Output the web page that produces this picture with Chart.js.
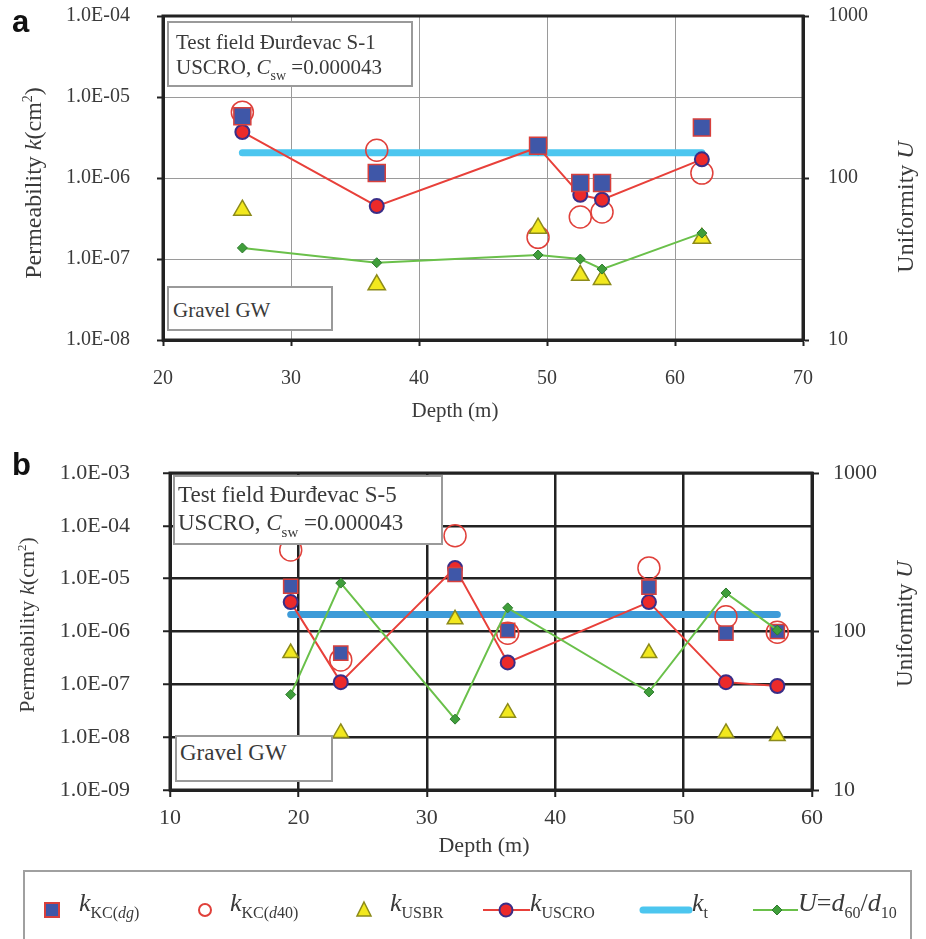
<!DOCTYPE html>
<html>
<head>
<meta charset="utf-8">
<script src="https://cdn.jsdelivr.net/npm/chart.js@4.4.1/dist/chart.umd.min.js"></script>
<style>
  body { margin: 0; background: #fff; }
  #page { position: relative; width: 926px; height: 939px; overflow: hidden; font-family: "Liberation Serif", "Times New Roman", serif; color: #3a3a3a; }
  canvas { position: absolute; left: 0; }
  .abs { position: absolute; white-space: nowrap; }
  .box { position: absolute; background: #fff; border: 2px solid #9a9a9a; box-sizing: border-box; }
  .rot { transform: translate(-50%, -50%) rotate(-90deg); }
  .panel { font-family: "Liberation Sans", Arial, sans-serif; font-weight: bold; font-size: 31px; color: #111; }
  .leg { position: absolute; top: 870px; left: 23px; width: 889px; height: 90px; border: 2px solid #a0a0a0; box-sizing: border-box; }
  .lk { position: absolute; top: 888px; font-size: 26px; white-space: nowrap; }
  .lk sub { font-size: 16px; font-style: normal; vertical-align: -7px; }
  svg { position: absolute; overflow: visible; }
</style>
</head>
<body>
<div id="page">
  <canvas id="ca" width="926" height="430" style="top:0"></canvas>
  <canvas id="cb" width="926" height="420" style="top:440px"></canvas>

  <div class="abs panel" style="left:12px; top:4px;">a</div>
  <div class="abs panel" style="left:12px; top:447px;">b</div>

  <!-- axis titles, chart a -->
  <div class="abs rot" style="left:33px; top:183px; font-size:24px;">Permeability <i>k</i>(cm<sup style="font-size:14px">2</sup>)</div>
  <div class="abs rot" style="left:905px; top:207px; font-size:24px;">Uniformity <i>U</i></div>
  <div class="abs" style="left:455px; top:410px; font-size:21px; transform:translate(-50%,-50%);">Depth (m)</div>

  <!-- axis titles, chart b -->
  <div class="abs rot" style="left:27px; top:625px; font-size:22px;">Permeability <i>k</i>(cm<sup style="font-size:13px">2</sup>)</div>
  <div class="abs rot" style="left:905px; top:624px; font-size:23px;">Uniformity <i>U</i></div>
  <div class="abs" style="left:484px; top:845px; font-size:22px; transform:translate(-50%,-50%);">Depth (m)</div>

  <!-- note boxes, chart a -->
  <div class="box" style="left:167px; top:21px; width:246px; height:66px;"></div>
  <div class="abs" style="left:176px; top:29px; font-size:21px; line-height:26px;">Test field Đurđevac S-1</div>
  <div class="abs" style="left:176px; top:54px; font-size:21px; line-height:26px;">USCRO, <i>C</i><sub style="font-size:14px; vertical-align:-6px">sw</sub> =0.000043</div>
  <div class="box" style="left:167px; top:286px; width:166px; height:45px;"></div>
  <div class="abs" style="left:173px; top:297px; font-size:21px; line-height:26px;">Gravel GW</div>

  <!-- note boxes, chart b -->
  <div class="box" style="left:173px; top:475px; width:270px; height:70px;"></div>
  <div class="abs" style="left:178px; top:481px; font-size:23px; line-height:28px;">Test field Đurđevac S-5</div>
  <div class="abs" style="left:178px; top:509px; font-size:23px; line-height:28px;">USCRO, <i>C</i><sub style="font-size:15px; vertical-align:-7px">sw</sub> =0.000043</div>
  <div class="box" style="left:175px; top:735px; width:158px; height:47px;"></div>
  <div class="abs" style="left:180px; top:739px; font-size:23px; line-height:28px;">Gravel GW</div>

  <!-- shared legend -->
  <div class="leg"></div>
  <svg style="left:0; top:0;" width="926" height="939">
    <rect x="45" y="903" width="14" height="14" fill="#3f57a8" stroke="#d8403c" stroke-width="2"/>
    <circle cx="205" cy="910" r="6" fill="none" stroke="#e0403a" stroke-width="2"/>
    <polygon points="364,902 371,916 357,916" fill="#f2e81e" stroke="#8c8a1a" stroke-width="1.5"/>
    <line x1="483" y1="910" x2="530" y2="910" stroke="#e8403a" stroke-width="2"/>
    <circle cx="506" cy="910" r="6.5" fill="#ec2a2a" stroke="#3a2e88" stroke-width="2"/>
    <line x1="643" y1="910" x2="689" y2="910" stroke="#4cc6ef" stroke-width="7" stroke-linecap="round"/>
    <line x1="753" y1="910" x2="798" y2="910" stroke="#6ac04a" stroke-width="2"/>
    <polygon points="777,905 782,910 777,915 772,910" fill="#3f9e3a" stroke="#2f7a2f" stroke-width="1"/>
  </svg>
  <div class="lk" style="left:79px;"><i>k</i><sub>KC(<i>dg</i>)</sub></div>
  <div class="lk" style="left:230px;"><i>k</i><sub>KC(<i>d</i>40)</sub></div>
  <div class="lk" style="left:390px;"><i>k</i><sub>USBR</sub></div>
  <div class="lk" style="left:530px;"><i>k</i><sub>USCRO</sub></div>
  <div class="lk" style="left:692px;"><i>k</i><sub>t</sub></div>
  <div class="lk" style="left:798px;"><i>U</i>=<i>d</i><sub>60</sub>/<i>d</i><sub>10</sub></div>
</div>

<script>
// ---- chart a : Test field Durdevac S-1 ----
const depthA   = [26.2, 36.7, 49.3, 52.6, 54.3, 62.1];
const kKcDgA   = [5.8e-6, 1.15e-6, 2.5e-6, 8.7e-7, 8.7e-7, 4.2e-6];
const kKcD40A  = [6.5e-6, 2.2e-6, 1.85e-7, 3.3e-7, 3.8e-7, 1.15e-6];
const kUsbrA   = [4.0e-7, 4.8e-8, 2.4e-7, 6.3e-8, 5.6e-8, 1.8e-7];
const kUscroA  = [3.7e-6, 4.5e-7, 2.4e-6, 6.2e-7, 5.4e-7, 1.7e-6];
const ktDepthA = [26.2, 62.1];
const ktA      = [2.05e-6, 2.05e-6];
const uA       = [37, 30, 33.5, 31.6, 27.4, 45.7];

const xTicksA      = [20, 30, 40, 50, 60, 70];
const kTicksA      = [1e-8, 1e-7, 1e-6, 1e-5, 1e-4];
const kTickLabelsA = ['1.0E-08', '1.0E-07', '1.0E-06', '1.0E-05', '1.0E-04'];

// ---- chart b : Test field Durdevac S-5 ----
const depthB   = [19.4, 23.3, 32.2, 36.3, 47.3, 53.3, 57.3];
const kKcDgB   = [7.2e-6, 3.9e-7, 1.2e-5, 1.05e-6, 6.9e-6, 9.3e-7, 1.0e-6];
const kKcD40B  = [3.5e-5, 2.9e-7, 6.5e-5, 9.3e-7, 1.6e-5, 1.9e-6, 9.7e-7];
const kUsbrB   = [3.9e-7, 1.2e-8, 1.7e-6, 2.9e-8, 3.9e-7, 1.2e-8, 1.05e-8];
const kUscroB  = [3.6e-6, 1.1e-7, 1.6e-5, 2.6e-7, 3.6e-6, 1.1e-7, 9.3e-8];
const ktDepthB = [19.4, 57.3];
const ktB      = [2.1e-6, 2.1e-6];
const uB       = [40, 202, 28, 141, 41.5, 175, 102];

const xTicksB      = [10, 20, 30, 40, 50, 60];
const kTicksB      = [1e-9, 1e-8, 1e-7, 1e-6, 1e-5, 1e-4, 1e-3];
const kTickLabelsB = ['1.0E-09', '1.0E-08', '1.0E-07', '1.0E-06', '1.0E-05', '1.0E-04', '1.0E-03'];

const uTicks      = [10, 100, 1000];
const uTickLabels = ['10', '100', '1000'];

const pts = (xs, ys) => xs.map((x, i) => ({ x: x, y: ys[i] }));

// top edge of the frame (the other three come from the axis borders)
const frame = {
  id: 'frame',
  afterDraw(chart) {
    const a = chart.chartArea, ctx = chart.ctx;
    ctx.save();
    ctx.strokeStyle = '#222';
    ctx.lineWidth = 3;
    ctx.strokeRect(a.left, a.top, a.right - a.left, a.bottom - a.top);
    ctx.restore();
  }
};

function datasets(depth, kKcDg, kKcD40, kUsbr, kUscro, ktDepth, kt, u, sz, ktColor) {
  return [
    { label: 'U', data: pts(depth, u), yAxisID: 'u', showLine: true,
      borderColor: '#6ac04a', borderWidth: 2, pointStyle: 'rectRot', pointRadius: 5,
      pointBackgroundColor: '#3f9e3a', pointBorderColor: '#2f7a2f', pointBorderWidth: 1 },
    { label: 'k KC(dg)', data: pts(depth, kKcDg), showLine: false,
      pointStyle: 'rect', pointRadius: sz.sq, pointBackgroundColor: '#3f57a8',
      pointBorderColor: '#d8403c', pointBorderWidth: 1.5 },
    { label: 'k USCRO', data: pts(depth, kUscro), showLine: true,
      borderColor: '#e8403a', borderWidth: 2, pointStyle: 'circle', pointRadius: 7,
      pointBackgroundColor: '#ec2a2a', pointBorderColor: '#3a2e88', pointBorderWidth: 2 },
    { label: 'k USBR', data: pts(depth, kUsbr), showLine: false,
      pointStyle: 'triangle', pointRadius: sz.tri, pointBackgroundColor: '#f2e81e',
      pointBorderColor: '#8c8a1a', pointBorderWidth: 1.5 },
    { label: 'k KC(d40)', data: pts(depth, kKcD40), showLine: false,
      pointStyle: 'circle', pointRadius: 11, pointBackgroundColor: 'rgba(0,0,0,0)',
      pointBorderColor: '#e0403a', pointBorderWidth: 1.5 },
    { label: 'k t', data: pts(ktDepth, kt), showLine: true,
      borderColor: ktColor, borderWidth: 7, borderCapStyle: 'round', pointRadius: 0 }
  ];
}

// fixed axis sizes so the plot box lands where the figure has it
const fixWidth = w => s => { s.width = w; s.paddingTop = 0; s.paddingBottom = 0; };

function makeChart(id, cfg) {
  const tickFont = { family: 'Liberation Serif', size: cfg.fontSize };
  return new Chart(document.getElementById(id), {
    type: 'scatter',
    data: { datasets: cfg.datasets },
    options: {
      responsive: false,
      animation: false,
      events: [],
      layout: { padding: { top: cfg.top, left: 0, right: 0, bottom: 0 } },
      plugins: { legend: { display: false }, tooltip: { enabled: false } },
      scales: {
        x: {
          type: 'linear', min: cfg.xTicks[0], max: cfg.xTicks[cfg.xTicks.length - 1],
          afterFit: s => { s.height = cfg.xHeight; },
          afterBuildTicks: s => { s.ticks = cfg.xTicks.map(v => ({ value: v })); },
          ticks: { font: tickFont, color: '#3a3a3a', padding: cfg.xPad, maxRotation: 0, autoSkip: false },
          grid: { color: cfg.gridColor, lineWidth: cfg.gridWidth, tickLength: cfg.tickLen, tickColor: '#222', tickWidth: 2 },
          border: { color: '#222', width: 3 }
        },
        y: {
          type: 'logarithmic', position: 'left', min: cfg.kTicks[0], max: cfg.kTicks[cfg.kTicks.length - 1],
          afterFit: fixWidth(cfg.left),
          afterBuildTicks: s => { s.ticks = cfg.kTicks.map(v => ({ value: v })); },
          ticks: { font: tickFont, color: '#3a3a3a', padding: cfg.yPad, autoSkip: false,
                   callback: (v, i) => cfg.kLabels[i] },
          grid: { color: cfg.gridColor, lineWidth: cfg.gridWidth, tickLength: cfg.tickLen, tickColor: '#222', tickWidth: 2 },
          border: { color: '#222', width: 3 }
        },
        u: {
          type: 'logarithmic', position: 'right', min: 10, max: 1000,
          afterFit: fixWidth(cfg.right),
          afterBuildTicks: s => { s.ticks = uTicks.map(v => ({ value: v })); },
          ticks: { font: tickFont, color: '#3a3a3a', padding: cfg.uPad, autoSkip: false,
                   callback: (v, i) => uTickLabels[i] },
          grid: { drawOnChartArea: false, tickLength: cfg.tickLen, tickColor: '#222', tickWidth: 2, color: '#222' },
          border: { color: '#222', width: 3 }
        }
      }
    },
    plugins: [frame]
  });
}

makeChart('ca', {
  datasets: datasets(depthA, kKcDgA, kKcD40A, kUsbrA, kUscroA, ktDepthA, ktA, uA, { sq: 12, tri: 10 }, '#4cc6ef'),
  xTicks: xTicksA, kTicks: kTicksA, kLabels: kTickLabelsA,
  fontSize: 20, top: 16, left: 163, right: 123, xHeight: 90,
  xPad: 21, yPad: 27, uPad: 19, tickLen: 6,
  gridColor: '#9a9a9a', gridWidth: 1
});

makeChart('cb', {
  datasets: datasets(depthB, kKcDgB, kKcD40B, kUsbrB, kUscroB, ktDepthB, ktB, uB, { sq: 10, tri: 9 }, '#3d9bd8'),
  xTicks: xTicksB, kTicks: kTicksB, kLabels: kTickLabelsB,
  fontSize: 22, top: 33, left: 170, right: 114, xHeight: 70,
  xPad: 8, yPad: 33, uPad: 14, tickLen: 7,
  gridColor: '#222', gridWidth: 2.5
});
</script>
</body>
</html>
